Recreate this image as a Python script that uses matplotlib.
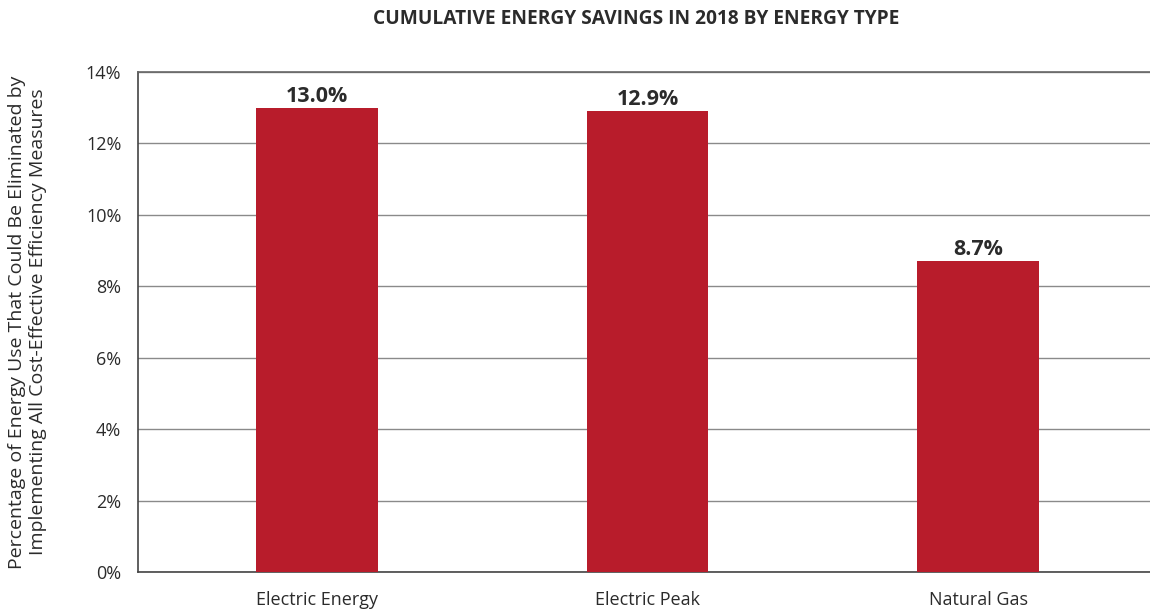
import matplotlib.pyplot as plt
from matplotlib.ticker import FuncFormatter

# Datos
categorias = ['Electric Energy', 'Electric Peak', 'Natural Gas']
ahorro = [13.0, 12.9, 8.7]
etiquetas = ['13.0%', '12.9%', '8.7%']
ticks_y = [0, 2, 4, 6, 8, 10, 12, 14]

COLOR_BARRA = '#B81C2B'
COLOR_TEXTO = '#2b2b2b'

plt.rcParams['font.family'] = ['Open Sans', 'DejaVu Sans']

fig = plt.figure(figsize=(11.5, 6.09), dpi=100)
ax = fig.add_axes([0.12, 0.0608, 0.88, 0.821])

x = range(len(categorias))
ax.bar(x, ahorro, width=0.367, color=COLOR_BARRA, zorder=3)

for xi, v, t in zip(x, ahorro, etiquetas):
    ax.text(xi, v + 0.03, t, ha='center', va='bottom', fontsize=15.5,
            fontweight='bold', color=COLOR_TEXTO, zorder=4)

ax.set_xlim(-0.542, 2.52)
ax.set_ylim(0, 14)
ax.set_yticks(ticks_y)
ax.yaxis.set_major_formatter(FuncFormatter(lambda v, p: f'{v:.0f}%'))
ax.set_xticks(list(x))
ax.set_xticklabels(categorias)
ax.tick_params(axis='both', length=0, labelsize=13, colors=COLOR_TEXTO)
ax.tick_params(axis='x', pad=14)
ax.tick_params(axis='y', pad=12)

ax.grid(axis='y', color='#8a8a8a', linewidth=1.0, zorder=0)
ax.set_axisbelow(True)

ax.spines['right'].set_visible(False)
ax.spines['left'].set_color('#444444')
ax.spines['bottom'].set_color('#444444')
ax.spines['top'].set_color('#666666')
for s in ['left', 'bottom', 'top']:
    ax.spines[s].set_linewidth(1.2)

ax.set_ylabel('Percentage of Energy Use That Could Be Eliminated by\n'
              'Implementing All Cost-Effective Efficiency Measures',
              fontsize=14, color=COLOR_TEXTO, labelpad=28, linespacing=1.2)

fig.text(0.553, 0.968, 'CUMULATIVE ENERGY SAVINGS IN 2018 BY ENERGY TYPE',
         ha='center', va='center', fontsize=13.8, fontweight='bold',
         color=COLOR_TEXTO)

fig.savefig('out.png', dpi=100)
plt.close()
